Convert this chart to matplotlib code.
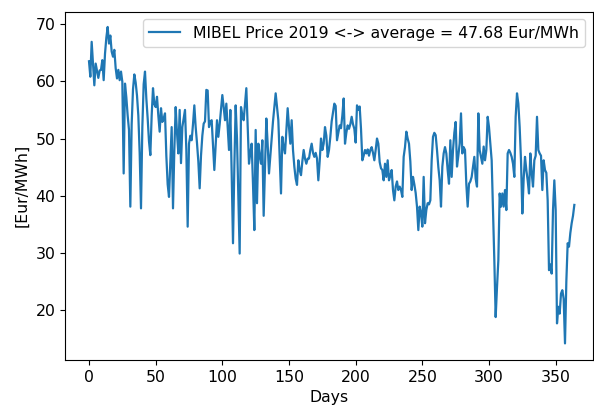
import matplotlib
matplotlib.use("Agg")
import matplotlib.pyplot as plt
import numpy as np

# Daily MIBEL price 2019 (Eur/MWh)
prices = [
    63.5, 60.8, 66.9, 63.0, 59.3, 63.1, 61.8, 60.6, 61.9, 62.0,
    63.7, 60.2, 64.8, 67.6, 69.5, 66.6, 68.0, 65.2, 64.3, 65.5,
    62.3, 60.5, 62.0, 60.2, 61.7, 59.9, 43.9, 59.6, 57.2, 54.0,
    51.5, 38.1, 52.5, 58.6, 61.2, 59.8, 57.5, 54.0, 47.5, 37.8,
    52.0, 59.5, 61.7, 57.0, 53.5, 49.5, 47.1, 54.0, 58.8, 56.0,
    55.5, 57.3, 54.0, 51.2, 55.3, 52.9, 53.5, 54.4, 47.0, 42.0,
    39.8, 46.0, 52.0, 37.8, 48.0, 55.5, 51.0, 47.4, 55.0, 45.7,
    52.0, 53.5, 55.0, 48.0, 34.6, 49.1, 50.5, 49.7, 52.5, 55.8,
    52.0, 49.2, 46.0, 41.3, 47.0, 50.5, 52.6, 53.0, 58.5, 58.4,
    52.0, 53.0, 53.2, 49.0, 44.5, 49.0, 53.2, 50.3, 52.5, 55.0,
    57.6, 55.5, 53.2, 56.1, 52.0, 48.0, 55.0, 44.0, 31.7, 45.0,
    55.8, 50.0, 40.0, 29.9, 55.5, 54.0, 53.2, 56.0, 58.8, 52.0,
    45.6, 47.5, 49.1, 42.0, 34.0, 51.5, 38.7, 49.1, 47.0, 45.6,
    49.7, 36.5, 45.0, 53.5, 49.0, 43.9, 47.0, 50.3, 53.0, 55.5,
    57.9, 55.5, 53.2, 47.0, 40.4, 50.3, 48.5, 47.4, 51.5, 55.3,
    52.0, 49.1, 53.2, 48.0, 45.1, 43.0, 41.9, 46.2, 44.5, 43.6,
    46.0, 48.0, 46.5, 45.6, 46.5, 46.5, 48.0, 49.1, 47.5, 46.8,
    47.5, 46.5, 42.7, 46.0, 50.0, 48.0, 49.1, 52.0, 50.5, 46.8,
    48.0, 50.3, 53.0, 54.5, 56.1, 55.7, 49.7, 51.0, 52.3, 51.8,
    54.0, 57.0, 49.1, 51.0, 52.3, 51.7, 52.5, 53.8, 52.5, 51.7,
    49.3, 55.8, 55.0, 55.6, 51.7, 46.2, 47.0, 48.0, 47.4, 48.1,
    47.0, 48.0, 48.5, 47.5, 46.2, 48.0, 50.0, 49.1, 45.9, 44.8,
    44.5, 42.7, 45.6, 43.3, 46.2, 42.7, 43.5, 44.5, 41.0, 39.2,
    41.6, 42.5, 41.0, 41.6, 41.0, 39.8, 46.8, 48.5, 51.2, 50.0,
    49.1, 46.0, 41.0, 43.3, 42.0, 40.5, 38.1, 34.0, 38.1, 37.0,
    34.6, 43.3, 35.2, 37.5, 38.7, 38.5, 39.2, 46.2, 50.3, 51.0,
    50.6, 48.0, 45.0, 42.7, 38.1, 45.1, 47.4, 48.5, 47.4, 44.5,
    42.1, 49.7, 43.3, 48.0, 51.0, 52.9, 45.1, 47.0, 49.1, 54.4,
    47.4, 48.5, 48.0, 42.0, 38.1, 42.1, 42.5, 43.3, 45.0, 46.8,
    43.0, 41.6, 54.4, 48.0, 46.8, 45.6, 48.6, 46.2, 48.0, 53.8,
    52.0, 49.0, 46.2, 37.5, 28.7, 18.8, 24.0, 28.7, 40.4, 38.1,
    40.4, 38.1, 41.0, 37.5, 47.4, 48.0, 47.5, 46.8, 45.6, 43.3,
    53.8, 57.9, 56.1, 52.0, 46.2, 36.9, 43.0, 46.8, 44.5, 42.7,
    40.4, 47.4, 44.0, 41.6, 46.2, 47.0, 53.8, 48.0, 47.4, 47.0,
    41.0, 46.2, 44.5, 44.0, 39.2, 27.0, 28.0, 26.4, 37.5, 42.7,
    37.5, 17.7, 20.6, 19.4, 22.9, 23.5, 22.0, 14.2, 25.0, 31.7,
    31.1, 33.5, 35.2, 36.5, 38.4,
]
days = np.arange(len(prices))
legend_label = "MIBEL Price 2019 <-> average = 47.68 Eur/MWh"
x_label = "Days"
y_label = "[Eur/MWh]"

plt.rcParams["font.size"] = 11.3

fig = plt.figure(figsize=(5.94, 4.09), dpi=100)
ax = fig.add_axes([65/594, 1 - 360/409, (593 - 65)/594, (360 - 11.5)/409])
ax.plot(days, prices, color="#1f77b4", linewidth=1.6, label=legend_label)
ax.set_xlim(-18, 378)
ax.set_ylim(11.3, 72.2)
ax.set_xticks([0, 50, 100, 150, 200, 250, 300, 350])
ax.set_yticks([20, 30, 40, 50, 60, 70])
ax.set_xlabel(x_label)
ax.set_ylabel(y_label)
ax.legend(loc="upper right")
fig.savefig("out.png", dpi=100)
